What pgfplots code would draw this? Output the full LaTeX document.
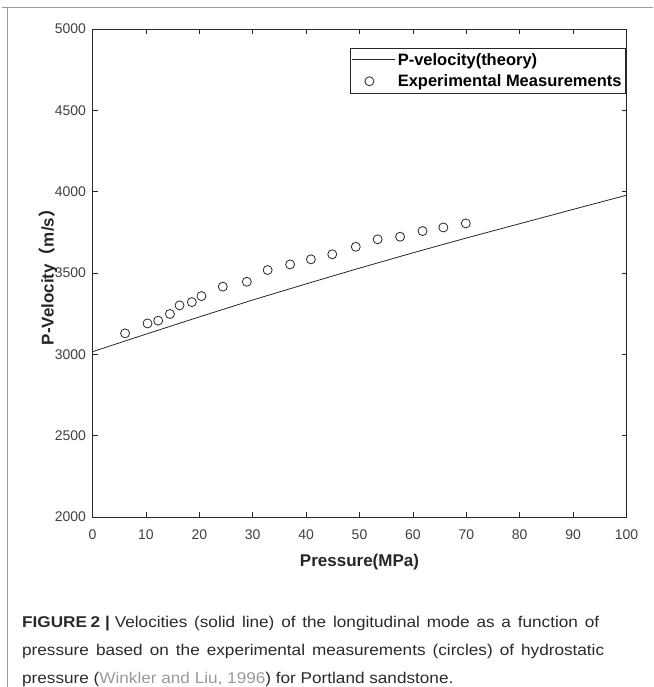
\documentclass[border=0pt]{standalone}
\usepackage{pgfplots}
\pgfplotsset{compat=1.18}
\usepackage{fontspec}
\setmainfont{Liberation Sans}
\newfontfamily\capfont[FakeStretch=1.1]{Liberation Sans}
\newfontfamily\cjk{Noto Sans CJK SC}
\definecolor{axgray}{HTML}{262626}
\definecolor{ticktext}{HTML}{404040}
\definecolor{framegray}{HTML}{9A9A9A}
\definecolor{citegray}{HTML}{9A9A9A}
\definecolor{captext}{HTML}{2A2A2A}

\pgfplotsset{
  linelegend/.style={legend image code/.code={\draw[##1] (0pt,0pt) -- (43pt,0pt);}},
  marklegend/.style={legend image code/.code={\path[draw=none] (0pt,0pt) -- (43pt,0pt); \draw[##1] plot coordinates {(17pt,0pt)};}},
}

\pgfplotstableread{
p v
0 3016
10 3124
20 3230
30 3334
40 3433
50 3530
60 3624
70 3715
80 3803
90 3891
100 3978
}\theory

\pgfplotstableread{
p v
6.1 3129
10.3 3190
12.3 3207
14.5 3248
16.3 3301
18.6 3321
20.4 3358
24.4 3416
28.9 3446
32.8 3518
37.0 3553
40.9 3584
44.9 3615
49.3 3661
53.4 3707
57.6 3723
61.8 3758
65.7 3780
69.9 3805
}\meas

\begin{document}
\begin{tikzpicture}[x=1pt,y=1pt]
\useasboundingbox (0,0) rectangle (653,687);
\draw[framegray, line width=1pt] (2,679.7) -- (653,679.7);
\draw[framegray, line width=1pt] (7.3,679.7) -- (7.3,-5);
\begin{axis}[
  at={(92.5pt,170pt)}, anchor=south west,
  scale only axis, width=534pt, height=488pt,
  xmin=0, xmax=100, ymin=2000, ymax=5000,
  xtick={0,10,...,100}, ytick={2000,2500,...,5000},
  tick align=inside, major tick length=5pt,
  axis line style={axgray, line width=0.8pt},
  tick style={axgray, line width=0.8pt},
  ticklabel style={font=\fontsize{14}{16}\selectfont, text=ticktext},
  xticklabel style={yshift=-9pt},
  yticklabel style={xshift=-3pt},
  /pgf/number format/assume math mode=true,
  /pgf/number format/1000 sep={},
  scaled ticks=false,
  xlabel={Pressure(MPa)},
  ylabel={P-Velocity{\cjk （}m/s{\cjk ）}},
  every axis x label/.style={at={(axis description cs:0.5,-0.0922)}, anchor=center,
    font=\bfseries\fontsize{17}{20}\selectfont, text=axgray},
  every axis y label/.style={at={(axis description cs:-0.0833,0.5)}, rotate=90, anchor=center,
    font=\bfseries\fontsize{17}{20}\selectfont, text=axgray},
  legend style={at={(axis description cs:0.999,0.9617)}, anchor=north east,
    draw=axgray, line width=0.8pt, fill=white,
    font=\bfseries\fontsize{16.5}{20}\selectfont, text=black,
    inner xsep=2pt, inner ysep=2.5pt, row sep=3pt,
    nodes={inner xsep=2pt, inner ysep=2.5pt}},
  legend cell align=left,
]
\addplot[axgray, line width=0.8pt, linelegend]
  table[x=p, y=v] {\theory};
\addlegendentry{P-velocity(theory)}
\addplot[only marks, mark=o, mark size=4.5pt, mark options={line width=0.8pt, draw=axgray}, marklegend]
  table[x=p, y=v] {\meas};
\addlegendentry{Experimental Measurements}
\end{axis}
\node[anchor=base west, inner sep=0, text=captext] at (22,59)
  {\capfont\fontsize{15.6}{18}\selectfont\makebox[577pt][s]{\textbf{FIGURE\hspace{3.5pt}2\hspace{5pt}|}\hspace{5pt}Velocities (solid line) of the longitudinal mode as a function of}};
\node[anchor=base west, inner sep=0, text=captext] at (22,31.5)
  {\capfont\fontsize{15.6}{18}\selectfont\makebox[582pt][s]{pressure based on the experimental measurements (circles) of hydrostatic}};
\node[anchor=base west, inner sep=0, text=captext] at (22,4)
  {\capfont\fontsize{15.6}{18}\selectfont pressure ({\color{citegray}Winkler and Liu, 1996}) for Portland sandstone.};
\end{tikzpicture}
\end{document}
